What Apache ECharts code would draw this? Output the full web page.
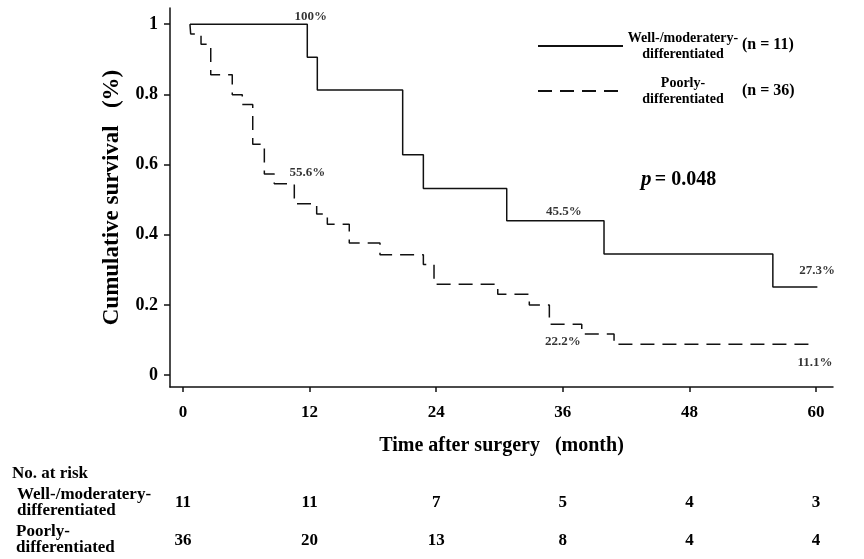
<!DOCTYPE html>
<html>
<head>
<meta charset="utf-8">
<script src="https://cdn.jsdelivr.net/npm/echarts@6/dist/echarts.min.js"></script>
<style>
html,body{margin:0;padding:0;background:#fff;}
#chart{width:864px;height:559px;}
</style>
</head>
<body>
<div id="chart"></div>
<script>
// ---- data ----
var wellTime = [0.66, 11.78, 12.73, 20.82, 22.78, 30.68, 39.9, 55.9, 60.12];
var wellSurv = [1, 0.906, 0.812, 0.628, 0.532, 0.44, 0.345, 0.251, 0.251];
var poorTime = [0.66, 0.73, 1.71, 2.63, 4.67, 5.62, 6.61, 7.71, 8.65, 10.55, 12.67, 13.68, 15.76, 18.67, 22.78, 23.79, 29.83, 32.82, 34.72, 37.79, 40.85, 59.84];
var poorSurv = [1, 0.972, 0.943, 0.856, 0.799, 0.771, 0.658, 0.573, 0.545, 0.488, 0.459, 0.430, 0.376, 0.343, 0.315, 0.259, 0.230, 0.200, 0.145, 0.117, 0.0875, 0.0875];
var xTicks = [0, 12, 24, 36, 48, 60];
var yTicks = [0, 0.2, 0.4, 0.6, 0.8, 1];
var riskWell = [11, 11, 7, 5, 4, 3];
var riskPoor = [36, 20, 13, 8, 4, 4];
var annotText = ['100%', '55.6%', '45.5%', '27.3%', '22.2%', '11.1%'];
var annotX = [12.1, 11.8, 36.1, 60.1, 36.0, 59.9];
var annotY = [1.021, 0.576, 0.465, 0.298, 0.094, 0.035];
var seriesNames = ['Well-/moderatery-\ndifferentiated', 'Poorly-\ndifferentiated'];
var seriesN = ['(n = 11)', '(n = 36)'];
var pText = '0.048';

var FONT = '"Liberation Serif", "DejaVu Serif", serif';
var INK = '#111';
var xMin = -1.23, xMax = 61.6;

function zip(a, b) { return a.map(function (v, i) { return [v, b[i]]; }); }

var chart = echarts.init(document.getElementById('chart'), null, {renderer: 'canvas'});

function riskAxis(grid, arr) {
  return {
    type: 'value', gridIndex: grid, min: xMin, max: xMax,
    axisLine: {show: false}, axisTick: {show: false}, splitLine: {show: false},
    axisLabel: {
      customValues: xTicks, margin: 0,
      fontFamily: FONT, fontWeight: 'bold', fontSize: 17, color: '#000',
      formatter: function (v) { return String(arr[xTicks.indexOf(v)]); }
    }
  };
}
function hiddenY(grid) {
  return {type: 'value', gridIndex: grid, show: false, min: 0, max: 1};
}

var option = {
  backgroundColor: '#fff',
  animation: false,
  grid: [
    {left: 170, right: 31, top: 8, bottom: 172},
    {left: 170, right: 31, top: 493, height: 1},
    {left: 170, right: 31, top: 531, height: 1}
  ],
  xAxis: [
    {
      type: 'value', gridIndex: 0, min: xMin, max: xMax,
      splitLine: {show: false},
      axisLine: {show: true, onZero: false, lineStyle: {color: INK, width: 1.5}},
      axisTick: {show: true, customValues: xTicks, length: 5, lineStyle: {color: INK, width: 1.5}},
      axisLabel: {customValues: xTicks, margin: 17, fontFamily: FONT, fontWeight: 'bold', fontSize: 17, color: '#000'},
      name: 'Time after surgery   (month)', nameLocation: 'middle', nameGap: 49,
      nameTextStyle: {fontFamily: FONT, fontWeight: 'bold', fontSize: 20, color: '#000'}
    },
    riskAxis(1, riskWell),
    riskAxis(2, riskPoor)
  ],
  yAxis: [
    {
      type: 'value', gridIndex: 0, min: -0.034, max: 1.046,
      splitLine: {show: false},
      axisLine: {show: true, onZero: false, lineStyle: {color: INK, width: 1.5}},
      axisTick: {show: true, customValues: yTicks, length: 6, lineStyle: {color: INK, width: 1.5}},
      axisLabel: {customValues: yTicks, margin: 12, fontFamily: FONT, fontWeight: 'bold', fontSize: 18, color: '#000',
        formatter: function (v) { return (v === 0 || v === 1) ? String(v) : v.toFixed(1); }},
      name: 'Cumulative survival   (%)', nameLocation: 'middle', nameGap: 46, nameRotate: 90,
      nameTextStyle: {fontFamily: FONT, fontWeight: 'bold', fontSize: 23, color: '#000'}
    },
    hiddenY(1),
    hiddenY(2)
  ],
  legend: {
    orient: 'vertical', left: 532, top: 26, itemWidth: 85, itemHeight: 14, itemGap: 15,
    data: [seriesNames[0], seriesNames[1]],
    itemStyle: {opacity: 0},
    textStyle: {
      rich: {
        t: {fontFamily: FONT, fontWeight: 'bold', fontSize: 14, color: '#000', align: 'center', width: 110, lineHeight: 16}
      }
    },
    formatter: function (name) {
      return name.split('\n').map(function (s) { return '{t|' + s + '}'; }).join('\n');
    },
    selectedMode: false
  },
  series: [
    {
      name: seriesNames[0], type: 'line', step: 'end', xAxisIndex: 0, yAxisIndex: 0,
      data: zip(wellTime, wellSurv), symbol: 'none',
      lineStyle: {color: INK, width: 1.5, type: 'solid'}, itemStyle: {color: INK}
    },
    {
      name: seriesNames[1], type: 'line', step: 'end', xAxisIndex: 0, yAxisIndex: 0,
      data: zip(poorTime, poorSurv), symbol: 'none',
      lineStyle: {color: INK, width: 1.5, type: [14, 8]}, itemStyle: {color: INK}
    },
    {
      name: 'annot', type: 'scatter', xAxisIndex: 0, yAxisIndex: 0, symbolSize: 0, silent: true,
      data: annotText.map(function (t, i) { return {value: [annotX[i], annotY[i]], label: {formatter: t}}; }),
      label: {show: true, position: 'inside', fontFamily: FONT, fontWeight: 'bold', fontSize: 13, color: '#000'}
    }
  ],
  graphic: [
    {type: 'text', left: 742, top: 37, style: {text: seriesN[0], font: 'bold 16px ' + FONT, fill: '#000'}},
    {type: 'text', left: 742, top: 83, style: {text: seriesN[1], font: 'bold 16px ' + FONT, fill: '#000'}},
    {type: 'text', left: 641, top: 169, style: {
      text: '{i|p} {b|= ' + pText + '}',
      rich: {i: {font: 'italic bold 21px ' + FONT, fill: '#000'}, b: {font: 'bold 20px ' + FONT, fill: '#000'}}
    }},
    {type: 'text', left: 12, top: 465, style: {text: 'No. at risk', font: 'bold 17px ' + FONT, fill: '#000'}},
    {type: 'text', left: 17, top: 486, style: {text: 'Well-/moderatery-\ndifferentiated', font: 'bold 17px ' + FONT, fill: '#000', lineHeight: 16}},
    {type: 'text', left: 16, top: 523, style: {text: 'Poorly-\ndifferentiated', font: 'bold 17px ' + FONT, fill: '#000', lineHeight: 16}}
  ]
};
chart.setOption(option);
</script>
</body>
</html>
